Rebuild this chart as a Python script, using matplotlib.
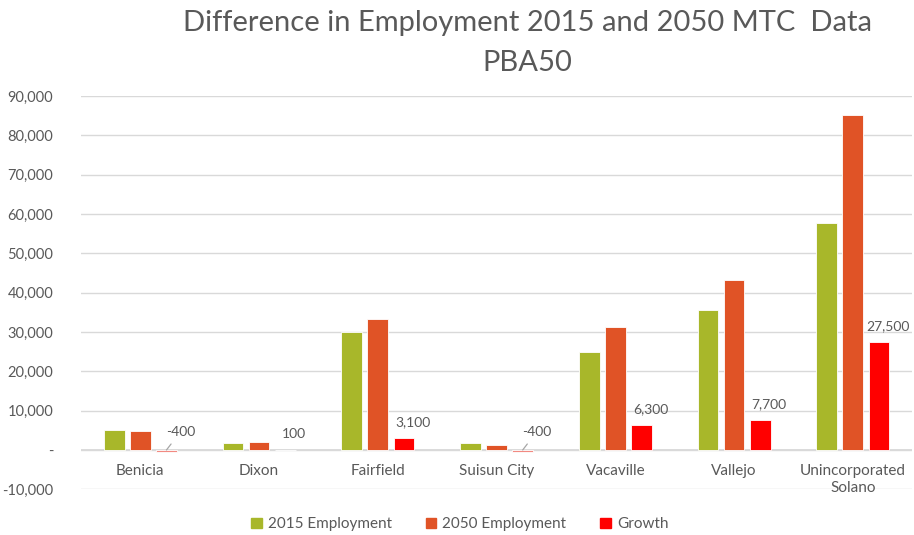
import matplotlib
matplotlib.use('Agg')
import matplotlib.pyplot as plt
import numpy as np
from matplotlib.ticker import FuncFormatter
from matplotlib.patches import Patch

# ===== DATA =====
cities = ['Benicia', 'Dixon', 'Fairfield', 'Suisun City', 'Vacaville',
          'Vallejo', 'Unincorporated\nSolano']
emp_2015 = [5100, 1900, 30100, 1700, 24900, 35600, 57700]
emp_2050 = [4700, 2000, 33200, 1300, 31200, 43300, 85200]
growth = [-400, 100, 3100, -400, 6300, 7700, 27500]
growth_labels = ['-400', '100', '3,100', '-400', '6,300', '7,700', '27,500']
series_names = ['2015 Employment', '2050 Employment', 'Growth']

c_2015 = '#a8b72a'
c_2050 = '#e05326'
c_growth = '#ff0000'
c_neg = '#f28a82'
txt = '#595959'
grid_c = '#d9d9d9'

plt.rcParams['font.family'] = ['Lato', 'DejaVu Sans']

fig = plt.figure(figsize=(9.14, 5.35), dpi=100)
ax = fig.add_axes([0.0886, 0.0854, 0.9094, 0.7352])

x = np.arange(len(cities))
w = 0.175
off = 0.22

ax.bar(x - off, emp_2015, w, color=c_2015, edgecolor='white', linewidth=0.6,
       zorder=3)
ax.bar(x, emp_2050, w, color=c_2050, edgecolor='white', linewidth=0.6,
       zorder=3)
g_colors = [c_growth if v >= 0 else c_neg for v in growth]
ax.bar(x + off, growth, w, color=g_colors, edgecolor='white', linewidth=0.6,
       zorder=3)

# data labels for growth
for xi, v, lab in zip(x, growth, growth_labels):
    if v < 0:
        ax.annotate(lab, xy=(xi + off, 0), xytext=(10, 13),
                    textcoords='offset points', ha='center', va='center',
                    fontsize=10, color=txt,
                    arrowprops=dict(arrowstyle='-', color='#a6a6a6', lw=0.9,
                                    shrinkA=3, shrinkB=0))
    else:
        ax.annotate(lab, xy=(xi + off, v), xytext=(6.5, 11.5),
                    textcoords='offset points', ha='center', va='center',
                    fontsize=10, color=txt, annotation_clip=False)

# category labels under the zero line
for xi, name in zip(x, cities):
    ax.annotate(name, xy=(xi, 0), xytext=(0, -10), textcoords='offset points',
                ha='center', va='top', fontsize=11, color=txt,
                linespacing=1.25)

ax.set_xlim(-0.5, len(cities) - 0.5)
ax.set_ylim(-10000, 90000)
ax.set_yticks(np.arange(-10000, 90001, 10000))
ax.yaxis.set_major_formatter(FuncFormatter(
    lambda v, p: '-' if v == 0 else f'{v:,.0f}'))
ax.tick_params(axis='y', length=0, pad=20, labelsize=10.5, labelcolor=txt)
ax.set_xticks([])
ax.grid(axis='y', color=grid_c, linewidth=1, zorder=0)
ax.axhline(0, color=grid_c, linewidth=1.3, zorder=2)
for s in ax.spines.values():
    s.set_visible(False)

fig.text(0.577, 0.92, 'Difference in Employment 2015 and 2050 MTC  Data\nPBA50',
         ha='center', va='center', fontsize=21, color=txt, linespacing=1.65)

handles = [Patch(color=c) for c in (c_2015, c_2050, c_growth)]
fig.legend(handles, series_names, loc='center', bbox_to_anchor=(0.503, 0.02),
           ncol=3, frameon=False, fontsize=11, labelcolor=txt,
           handlelength=0.7, handleheight=0.7, columnspacing=2.2,
           handletextpad=0.4)

plt.savefig('out.png', dpi=100)
